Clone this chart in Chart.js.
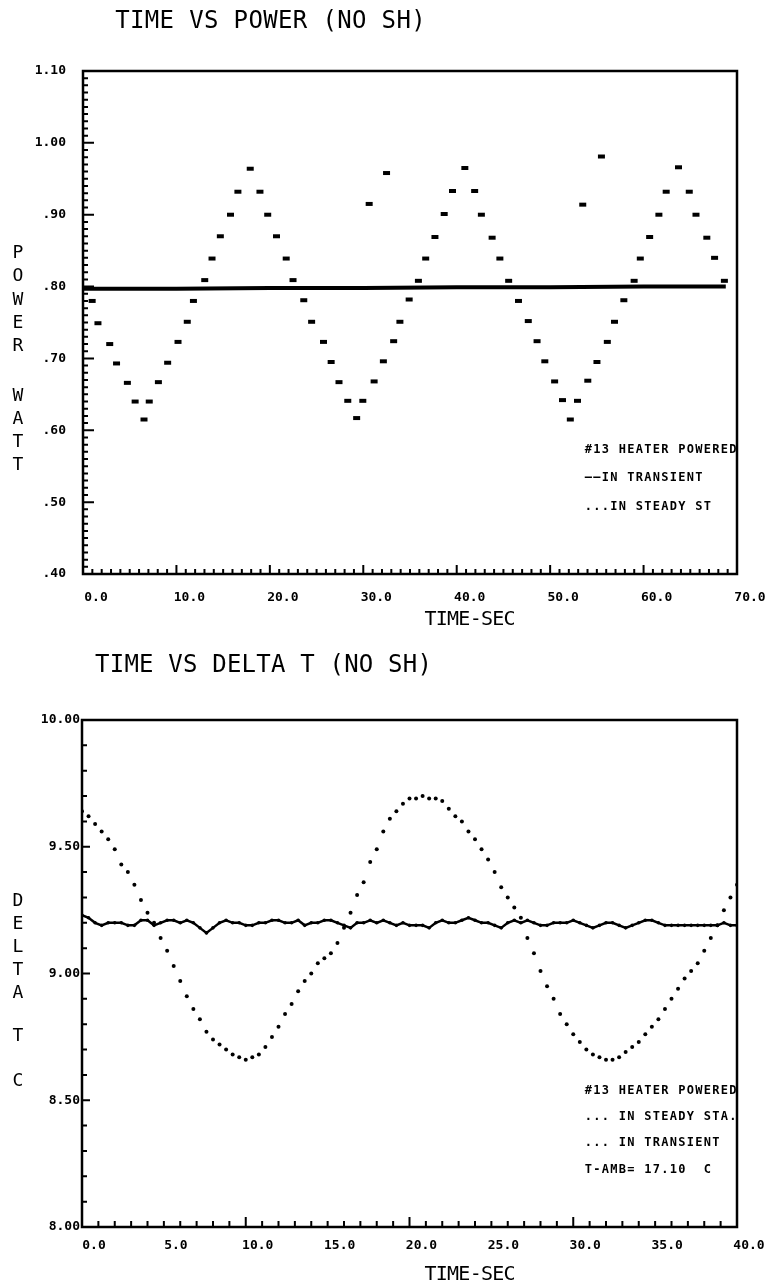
<!DOCTYPE html>
<html>
<head>
<meta charset="utf-8">
<title>Time vs Power / Time vs Delta T (no SH)</title>
<script src="https://cdn.jsdelivr.net/npm/chart.js@4.4.1/dist/chart.umd.min.js"></script>
<style>
  body { margin: 0; background: #fff; }
  #wrap { position: relative; width: 770px; height: 1287px; }
  canvas { position: absolute; left: 0; }
  #power-chart { top: 0; }
  #delta-chart { top: 640px; }
</style>
</head>
<body>
<div id="wrap">
  <canvas id="power-chart" width="770" height="640"></canvas>
  <canvas id="delta-chart" width="770" height="647"></canvas>
</div>
<script>
// ---- Chart 1: time vs power ----
const powerTickLabels = ["0.0", "10.0", "20.0", "30.0", "40.0", "50.0", "60.0", "70.0"]

// steady state samples (dots)
const powerTimes = [
  0.98, 1.60, 2.86, 3.59, 4.75, 5.58, 6.53, 7.09, 8.07, 9.06,
  10.17, 11.16, 11.82, 13.03, 13.81, 14.70, 15.79, 16.58, 17.90, 18.94,
  19.77, 20.71, 21.75, 22.48, 23.63, 24.47, 25.74, 26.56, 27.40, 28.34,
  29.29, 29.95, 30.63, 31.16, 32.15, 32.49, 33.25, 33.92, 34.91, 35.90,
  36.68, 37.67, 38.66, 39.55, 40.87, 41.92, 42.64, 43.79, 44.62, 45.56,
  46.61, 47.66, 48.60, 49.43, 50.48, 51.32, 52.16, 52.93, 53.49, 54.03,
  55.01, 55.49, 56.12, 56.89, 57.89, 58.99, 59.65, 60.65, 61.64, 62.42,
  63.74, 64.89, 65.61, 66.77, 67.60, 68.65
]
const powerSteady = [
  0.780, 0.749, 0.720, 0.693, 0.666, 0.640, 0.615, 0.640, 0.667, 0.694,
  0.723, 0.751, 0.780, 0.809, 0.839, 0.870, 0.900, 0.932, 0.964, 0.932,
  0.900, 0.870, 0.839, 0.809, 0.781, 0.751, 0.723, 0.695, 0.667, 0.641,
  0.617, 0.641, 0.915, 0.668, 0.696, 0.958, 0.724, 0.751, 0.782, 0.808,
  0.839, 0.869, 0.901, 0.933, 0.965, 0.933, 0.900, 0.868, 0.839, 0.808,
  0.780, 0.752, 0.724, 0.696, 0.668, 0.642, 0.615, 0.641, 0.914, 0.669,
  0.695, 0.981, 0.723, 0.751, 0.781, 0.808, 0.839, 0.869, 0.900, 0.932,
  0.966, 0.932, 0.900, 0.868, 0.840, 0.808
]

// transient (solid line)
const transientTimes = [0, 10, 20, 30, 40, 50, 60, 68.8]
const powerTransient = [0.797, 0.797, 0.798, 0.798, 0.799, 0.799, 0.800, 0.800]

// ---- Chart 2: time vs delta T ----
const deltaTickLabels = ["0.0", "5.0", "10.0", "15.0", "20.0", "25.0", "30.0", "35.0", "40.0"]

const deltaTimes = [
  0.0, 0.4, 0.8, 1.2, 1.6, 2.0, 2.4, 2.8, 3.2, 3.6,
  4.0, 4.4, 4.8, 5.2, 5.6, 6.0, 6.4, 6.8, 7.2, 7.6,
  8.0, 8.4, 8.8, 9.2, 9.6, 10.0, 10.4, 10.8, 11.2, 11.6,
  12.0, 12.4, 12.8, 13.2, 13.6, 14.0, 14.4, 14.8, 15.2, 15.6,
  16.0, 16.4, 16.8, 17.2, 17.6, 18.0, 18.4, 18.8, 19.2, 19.6,
  20.0, 20.4, 20.8, 21.2, 21.6, 22.0, 22.4, 22.8, 23.2, 23.6,
  24.0, 24.4, 24.8, 25.2, 25.6, 26.0, 26.4, 26.8, 27.2, 27.6,
  28.0, 28.4, 28.8, 29.2, 29.6, 30.0, 30.4, 30.8, 31.2, 31.6,
  32.0, 32.4, 32.8, 33.2, 33.6, 34.0, 34.4, 34.8, 35.2, 35.6,
  36.0, 36.4, 36.8, 37.2, 37.6, 38.0, 38.4, 38.8, 39.2, 39.6,
  40.0
]
const deltaSteady = [
  9.23, 9.22, 9.20, 9.19, 9.20, 9.20, 9.20, 9.19, 9.19, 9.21,
  9.21, 9.19, 9.20, 9.21, 9.21, 9.20, 9.21, 9.20, 9.18, 9.16,
  9.18, 9.20, 9.21, 9.20, 9.20, 9.19, 9.19, 9.20, 9.20, 9.21,
  9.21, 9.20, 9.20, 9.21, 9.19, 9.20, 9.20, 9.21, 9.21, 9.20,
  9.19, 9.18, 9.20, 9.20, 9.21, 9.20, 9.21, 9.20, 9.19, 9.20,
  9.19, 9.19, 9.19, 9.18, 9.20, 9.21, 9.20, 9.20, 9.21, 9.22,
  9.21, 9.20, 9.20, 9.19, 9.18, 9.20, 9.21, 9.20, 9.21, 9.20,
  9.19, 9.19, 9.20, 9.20, 9.20, 9.21, 9.20, 9.19, 9.18, 9.19,
  9.20, 9.20, 9.19, 9.18, 9.19, 9.20, 9.21, 9.21, 9.20, 9.19,
  9.19, 9.19, 9.19, 9.19, 9.19, 9.19, 9.19, 9.19, 9.20, 9.19,
  9.19
]
const deltaTransient = [
  9.64, 9.62, 9.59, 9.56, 9.53, 9.49, 9.43, 9.40, 9.35, 9.29,
  9.24, 9.20, 9.14, 9.09, 9.03, 8.97, 8.91, 8.86, 8.82, 8.77,
  8.74, 8.72, 8.70, 8.68, 8.67, 8.66, 8.67, 8.68, 8.71, 8.75,
  8.79, 8.84, 8.88, 8.93, 8.97, 9.00, 9.04, 9.06, 9.08, 9.12,
  9.18, 9.24, 9.31, 9.36, 9.44, 9.49, 9.56, 9.61, 9.64, 9.67,
  9.69, 9.69, 9.70, 9.69, 9.69, 9.68, 9.65, 9.62, 9.60, 9.56,
  9.53, 9.49, 9.45, 9.40, 9.34, 9.30, 9.26, 9.22, 9.14, 9.08,
  9.01, 8.95, 8.90, 8.84, 8.80, 8.76, 8.73, 8.70, 8.68, 8.67,
  8.66, 8.66, 8.67, 8.69, 8.71, 8.73, 8.76, 8.79, 8.82, 8.86,
  8.90, 8.94, 8.98, 9.01, 9.04, 9.09, 9.14, 9.19, 9.25, 9.30,
  9.35
]

const PLOT_FONT = '"DejaVu Sans Mono", "Liberation Mono", monospace'

function toPoints(xs, ys) {
  return xs.map((x, i) => ({ x: x, y: ys[i] }))
}

function isMajor(v, step) {
  const r = v / step
  return Math.abs(r - Math.round(r)) < 1e-6
}

// box round the plot and small ticks pointing inwards
const plotFrame = {
  id: "plotFrame",
  afterDatasetsDraw(chart, args, o) {
    const { ctx, chartArea: a } = chart
    const xs = chart.scales.x
    const ys = chart.scales.y
    ctx.save()
    ctx.strokeStyle = "#000"
    ctx.lineWidth = o.frameWidth
    ctx.strokeRect(a.left, a.top, a.right - a.left, a.bottom - a.top)
    ctx.lineWidth = o.tickWidth
    ctx.beginPath()
    let n = Math.round((xs.max - xs.min) / o.xMinor)
    for (let i = 1; i < n; i++) {
      const v = xs.min + i * o.xMinor
      const px = xs.getPixelForValue(v)
      const len = isMajor(v, o.xMajor) ? o.xMajorLen : o.xMinorLen
      ctx.moveTo(px, a.bottom)
      ctx.lineTo(px, a.bottom - len)
    }
    n = Math.round((ys.max - ys.min) / o.yMinor)
    for (let i = 1; i < n; i++) {
      const v = ys.min + i * o.yMinor
      const py = ys.getPixelForValue(v)
      const len = isMajor(v, o.yMajor) ? o.yMajorLen : o.yMinorLen
      ctx.moveTo(a.left, py)
      ctx.lineTo(a.left + len, py)
    }
    ctx.stroke()
    ctx.restore()
  },
}

// titles, stacked axis names and the notes inside the plot
const plotText = {
  id: "plotText",
  afterDraw(chart, args, o) {
    const ctx = chart.ctx
    ctx.save()
    ctx.fillStyle = "#000"
    ctx.textBaseline = "middle"
    o.items.forEach((it) => {
      ctx.font = it.font
      ctx.textAlign = "center"
      if (it.ys) {
        for (let i = 0; i < it.text.length; i++) {
          ctx.fillText(it.text[i], it.x, it.ys[i])
        }
        return
      }
      let x0 = it.x
      if (it.align === "center") x0 = it.x - (it.text.length * it.pitch) / 2
      for (let i = 0; i < it.text.length; i++) {
        ctx.fillText(it.text[i], x0 + (i + 0.5) * it.pitch, it.y)
      }
    })
    ctx.restore()
  },
}

const tickFont = { family: PLOT_FONT, size: 13, weight: "bold" }
const titleFont = "24px " + PLOT_FONT
const axisFont = "20px " + PLOT_FONT
const letterFont = "18px " + PLOT_FONT
const noteFont = "bold 12px " + PLOT_FONT

// ---- time vs power ----
new Chart(document.getElementById("power-chart"), {
  type: "scatter",
  data: {
    datasets: [
      {
        label: "IN TRANSIENT",
        data: toPoints(transientTimes, powerTransient),
        showLine: true,
        borderColor: "#000",
        borderWidth: 4,
        pointRadius: 0,
      },
      {
        label: "IN STEADY ST",
        data: toPoints(powerTimes, powerSteady),
        pointStyle: "line",
        pointRadius: 3.5,
        pointBorderWidth: 4,
        pointBorderColor: "#000",
        pointBackgroundColor: "#000",
      },
    ],
  },
  options: {
    responsive: false,
    animation: false,
    layout: { padding: { top: 71, right: 33, left: 0, bottom: 0 } },
    plugins: {
      legend: { display: false },
      tooltip: { enabled: false },
      plotFrame: {
        frameWidth: 2.5, tickWidth: 2,
        xMinor: 1, xMajor: 10, xMinorLen: 5, xMajorLen: 9,
        yMinor: 0.01, yMajor: 0.1, yMinorLen: 5, yMajorLen: 11,
      },
      plotText: {
        items: [
          { text: "TIME VS POWER (NO SH)", x: 115, y: 22, pitch: 14.8, font: titleFont },
          { text: "TIME-SEC", x: 470, y: 620, pitch: 11.3, align: "center", font: axisFont },
          { text: "POWER", x: 18, ys: [253, 276, 300, 323, 346], font: letterFont },
          { text: "WATT", x: 18, ys: [396, 419, 442, 465], font: letterFont },
          { text: "#13 HEATER POWERED", x: 584, y: 450, pitch: 8.5, font: noteFont },
          { text: "\u2014\u2014IN TRANSIENT", x: 584, y: 478, pitch: 8.5, font: noteFont },
          { text: "...IN STEADY ST", x: 584, y: 507, pitch: 8.5, font: noteFont },
        ],
      },
    },
    scales: {
      x: {
        type: "linear",
        min: 0,
        max: 70,
        afterFit: (s) => { s.height = 66 },
        grid: { display: false, drawTicks: false },
        border: { display: false },
        ticks: {
          stepSize: 10,
          autoSkip: false,
          maxRotation: 0,
          labelOffset: 13,
          padding: 16,
          color: "#000",
          font: tickFont,
          callback: (v) => powerTickLabels[Math.round(v / 10)],
        },
      },
      y: {
        min: 0.4,
        max: 1.1,
        afterFit: (s) => { s.width = 83 },
        grid: { display: false, drawTicks: false },
        border: { display: false },
        ticks: {
          stepSize: 0.1,
          autoSkip: false,
          padding: 17,
          color: "#000",
          font: tickFont,
          callback: (v) => (v >= 0.995 ? v.toFixed(2) : v.toFixed(2).slice(1)),
        },
      },
    },
  },
  plugins: [plotFrame, plotText],
})

// ---- time vs delta T ----
new Chart(document.getElementById("delta-chart"), {
  type: "scatter",
  data: {
    datasets: [
      {
        label: "IN STEADY STA.",
        data: toPoints(deltaTimes, deltaSteady),
        showLine: true,
        borderColor: "#000",
        borderWidth: 2.5,
        pointRadius: 1.8,
        pointBorderWidth: 0,
        pointBackgroundColor: "#000",
      },
      {
        label: "IN TRANSIENT",
        data: toPoints(deltaTimes, deltaTransient),
        pointRadius: 2,
        pointBorderWidth: 0,
        pointBackgroundColor: "#000",
      },
    ],
  },
  options: {
    responsive: false,
    animation: false,
    layout: { padding: { top: 80, right: 33, left: 0, bottom: 0 } },
    plugins: {
      legend: { display: false },
      tooltip: { enabled: false },
      plotFrame: {
        frameWidth: 2.5, tickWidth: 2,
        xMinor: 1, xMajor: 10, xMinorLen: 6, xMajorLen: 10,
        yMinor: 0.1, yMajor: 0.5, yMinorLen: 5, yMajorLen: 8,
      },
      plotText: {
        items: [
          { text: "TIME VS DELTA T (NO SH)", x: 95, y: 26, pitch: 14.65, font: titleFont },
          { text: "TIME-SEC", x: 470, y: 635, pitch: 11.3, align: "center", font: axisFont },
          { text: "DELTA", x: 18, ys: [261, 284, 307, 330, 353], font: letterFont },
          { text: "T", x: 18, ys: [396], font: letterFont },
          { text: "C", x: 18, ys: [441], font: letterFont },
          { text: "#13 HEATER POWERED", x: 584, y: 451, pitch: 8.5, font: noteFont },
          { text: "... IN STEADY STA.", x: 584, y: 477, pitch: 8.5, font: noteFont },
          { text: "... IN TRANSIENT", x: 584, y: 503, pitch: 8.5, font: noteFont },
          { text: "T-AMB= 17.10  C", x: 584, y: 530, pitch: 8.5, font: noteFont },
        ],
      },
    },
    scales: {
      x: {
        type: "linear",
        min: 0,
        max: 40,
        afterFit: (s) => { s.height = 60 },
        grid: { display: false, drawTicks: false },
        border: { display: false },
        ticks: {
          stepSize: 5,
          autoSkip: false,
          maxRotation: 0,
          labelOffset: 12,
          padding: 11,
          color: "#000",
          font: tickFont,
          callback: (v) => deltaTickLabels[Math.round(v / 5)],
        },
      },
      y: {
        min: 8,
        max: 10,
        afterFit: (s) => { s.width = 82 },
        grid: { display: false, drawTicks: false },
        border: { display: false },
        ticks: {
          stepSize: 0.5,
          autoSkip: false,
          padding: 2,
          color: "#000",
          font: tickFont,
          callback: (v) => v.toFixed(2),
        },
      },
    },
  },
  plugins: [plotFrame, plotText],
})
</script>
</body>
</html>
